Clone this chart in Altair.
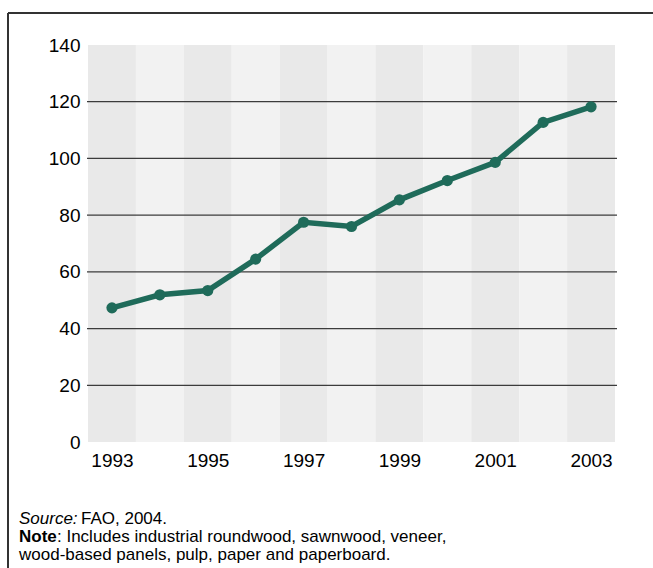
import altair as alt
import pandas as pd

# Wood products trade index, 1993-2003
years = [1993, 1994, 1995, 1996, 1997, 1998, 1999, 2000, 2001, 2002, 2003]
values = [47.3, 51.9, 53.4, 64.5, 77.5, 76.0, 85.4, 92.2, 98.6, 112.7, 118.2]

y_ticks = [0, 20, 40, 60, 80, 100, 120, 140]
grid_levels = [20, 40, 60, 80, 100, 120]
x_ticks = [1993, 1995, 1997, 1999, 2001, 2003]

source_label = "Source:"
source_text = "FAO, 2004."
note_label = "Note"
note_line1 = ": Includes industrial roundwood, sawnwood, veneer,"
note_line2 = "wood-based panels, pulp, paper and paperboard."

W, H = 527, 397
PAD_L, PAD_T = 88, 45
FONT = "Liberation Sans"
LINE_COLOR = "#1f6b5a"

series = pd.DataFrame({"year": years, "value": values})
grid = pd.DataFrame({"level": grid_levels})

x_scale = alt.Scale(domain=[1992.5, 2003.5], nice=False, zero=False)
y_scale = alt.Scale(domain=[0, 140], nice=False)

x_axis = alt.Axis(values=x_ticks, format="d", title=None, ticks=False, domain=False,
                  grid=False, labelFont=FONT, labelFontSize=19, labelColor="black",
                  labelPadding=9)
y_axis = alt.Axis(values=y_ticks, title=None, ticks=False, domain=False, grid=False,
                  labelFont=FONT, labelFontSize=19, labelColor="black", labelPadding=8)

# alternating vertical bands, one per year
bands = alt.Chart(series).transform_calculate(
    x0="datum.year - 0.5", x1="datum.year + 0.5"
).mark_rect().encode(
    x=alt.X("x0:Q", scale=x_scale, axis=x_axis),
    x2="x1:Q",
    y=alt.datum(0, scale=y_scale, axis=y_axis),
    y2=alt.datum(140),
    color=alt.condition("datum.year % 2 == 1", alt.value("#e9e9e9"), alt.value("#f2f2f2")),
)

gridlines = alt.Chart(grid).mark_rule(color="#3c3c3c", strokeWidth=1.3).encode(
    y=alt.Y("level:Q", scale=y_scale),
    x=alt.value(-1),
    x2=alt.value(W + 2),
)

line = alt.Chart(series).mark_line(color=LINE_COLOR, strokeWidth=5.5).encode(
    x=alt.X("year:Q", scale=x_scale),
    y=alt.Y("value:Q", scale=y_scale),
)

points = alt.Chart(series).mark_circle(color=LINE_COLOR, size=125, opacity=1).encode(
    x=alt.X("year:Q", scale=x_scale),
    y=alt.Y("value:Q", scale=y_scale),
)

# figure frame (top and left edges)
frame_top = alt.Chart(series).mark_rule(color="#333333", strokeWidth=1.5).encode(
    x=alt.value(8 - PAD_L), x2=alt.value(653 - PAD_L), y=alt.value(13 - PAD_T)
)
frame_left = alt.Chart(series).mark_rule(color="#333333", strokeWidth=1.5).encode(
    x=alt.value(8 - PAD_L), y=alt.value(13 - PAD_T), y2=alt.value(568 - PAD_T)
)

FS = 17
TX = 19 - PAD_L


def footer(text, x, y, style="normal", weight="normal"):
    return alt.Chart(series).transform_filter("datum.year == 1993").mark_text(
        text=text, align="left", baseline="alphabetic", font=FONT, fontSize=FS,
        fontStyle=style, fontWeight=weight, color="black"
    ).encode(x=alt.value(x), y=alt.value(y))


src1 = footer(source_label, TX, 524 - PAD_T, style="italic")
src2 = footer(source_text, TX + 62, 524 - PAD_T)
note1 = footer(note_label, TX, 542 - PAD_T, weight="bold")
note2 = footer(note_line1, TX + 38, 542 - PAD_T)
note3 = footer(note_line2, TX, 560 - PAD_T)

chart = alt.layer(
    bands, gridlines, line, points, frame_top, frame_left,
    src1, src2, note1, note2, note3
).properties(
    width=W, height=H,
    autosize=alt.AutoSizeParams(type="none"),
    padding={"left": PAD_L, "top": PAD_T, "right": 653 - PAD_L - W, "bottom": 568 - PAD_T - H},
    background="white",
).configure_view(stroke=None)

chart.save("out.html", embed_options={"renderer": "svg", "actions": False})
